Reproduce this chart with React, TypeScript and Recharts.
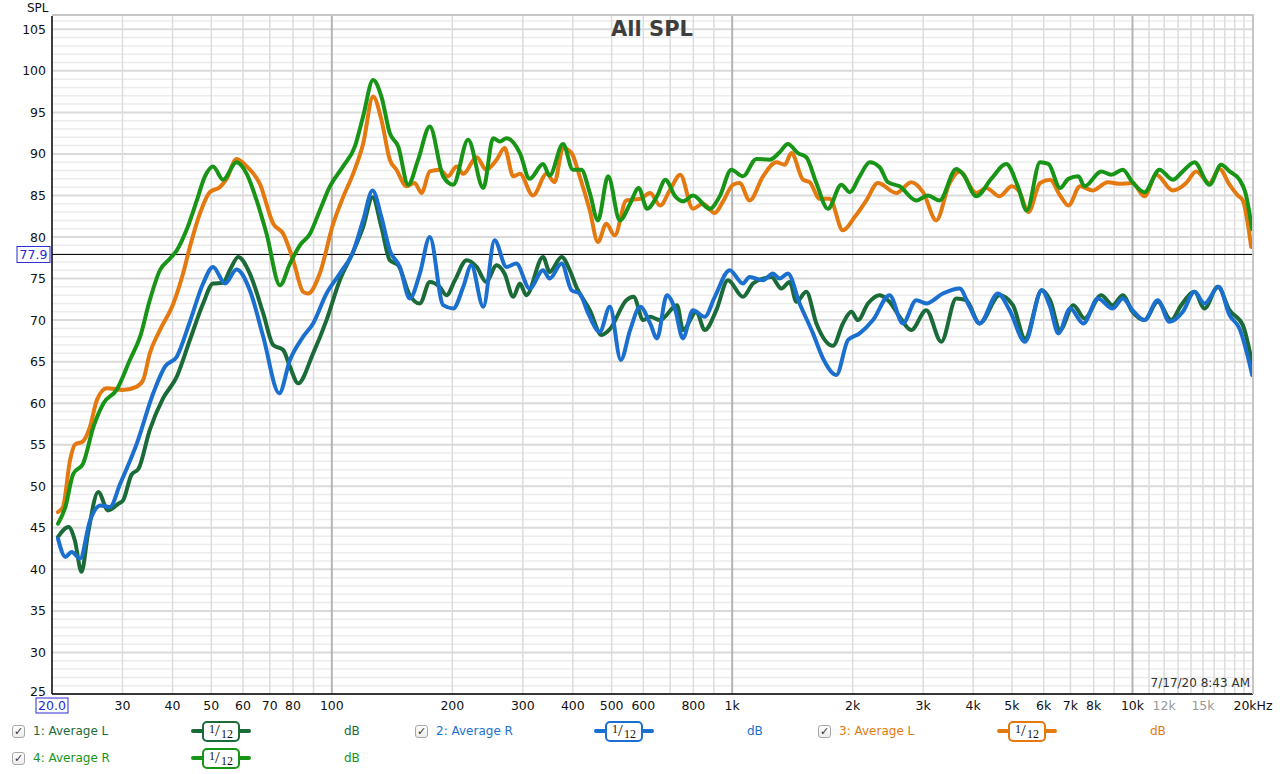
import React from "react";
import { LineChart, Line, XAxis, YAxis, ReferenceLine } from "recharts";

const avgL1Freq = [
  20.7, 22.0, 22.8, 23.7, 24.6, 26.1, 27.6, 29.3, 30.1, 31.6, 32.9, 35.1, 37.9, 41.0, 44.2, 47.7, 50.5, 53.5, 55.6, 58.4,
  62.4, 67.4, 71.4, 75.6, 78.6, 82.4, 89.8, 97.0, 104.7, 113, 119.7, 126.4, 133, 139.6, 146.5, 156.6, 165.9, 175.7, 186, 193.4,
  203, 217, 230, 243, 258, 270, 284, 295, 306, 337, 350, 375, 393, 408, 441, 472, 495, 544, 567, 600,
  624, 661, 728, 754, 814, 854, 913, 976, 1064, 1127, 1194, 1253, 1327, 1392, 1447, 1532, 1623, 1786, 1891, 1985,
  2062, 2184, 2336, 2473, 2620, 2802, 3054, 3329, 3629, 3844, 4150, 4656, 5026, 5391, 5935, 6225, 6594, 7118, 7588, 8353,
  8928, 9457, 10000, 10715, 11565, 12492, 13233, 14285, 15130, 16332, 17474, 18860, 19908,
];
const avgL1Db = [
  43.9, 45.1, 43.5, 39.7, 44.3, 49.3, 47.1, 47.9, 48.3, 51.4, 52.1, 56.8, 60.6, 63.2, 67.6, 72.0, 74.4, 74.5, 76.0, 77.6,
  75.6, 70.8, 67.0, 66.4, 64.4, 62.4, 66.0, 70.0, 74.8, 78.2, 81.2, 84.8, 81.2, 77.2, 76.6, 73.0, 72.0, 74.6, 74.0, 73.0,
  74.8, 77.2, 76.4, 74.6, 76.6, 75.6, 72.8, 74.4, 73.0, 77.6, 75.8, 77.6, 76.0, 74.0, 71.2, 68.2, 68.9, 72.4, 72.8, 70.0,
  70.4, 70.0, 71.8, 68.8, 71.0, 68.8, 71.2, 74.8, 72.8, 74.4, 75.0, 75.2, 73.8, 74.6, 72.2, 73.4, 69.6, 66.9, 69.6, 71.0,
  70.0, 72.0, 73.0, 72.2, 70.4, 68.8, 71.2, 67.4, 72.6, 72.4, 69.6, 73.0, 71.8, 67.8, 73.6, 72.4, 68.8, 71.8, 70.2, 73.0,
  71.8, 73.0, 71.0, 70.0, 72.2, 70.0, 71.8, 73.4, 71.4, 74.0, 71.2, 69.4, 64.8,
];

const avgR2Freq = [
  20.7, 21.6, 22.4, 23.5, 24.9, 26.4, 27.9, 29.6, 32.6, 35.8, 38.3, 41.0, 44.2, 47.7, 50.5, 54.1, 57.8, 62.4, 67.4, 73.9,
  78.6, 84.8, 89.8, 97.0, 104.7, 113, 119.7, 126.4, 133, 139.6, 147.9, 156.6, 165.9, 175.7, 189.7, 201, 213, 223, 239, 255,
  273, 289, 312, 337, 350, 375, 397, 416, 437, 467, 495, 527, 556, 589, 624, 649, 687, 721, 753, 798,
  854, 905, 986, 1064, 1106, 1194, 1264, 1314, 1378, 1474, 1592, 1686, 1821, 1947, 2082, 2248, 2473, 2669, 2883, 3054,
  3360, 3699, 3918, 4150, 4611, 4931, 5391, 5935, 6225, 6530, 6987, 7539, 8190, 8928, 9457, 10000, 10715, 11565, 12370, 13356,
  14285, 15130, 16425, 17474, 18506, 19908,
];
const avgR2Db = [
  43.7, 41.5, 42.1, 41.3, 45.9, 47.7, 47.5, 50.3, 55.2, 61.2, 64.4, 65.6, 69.8, 74.4, 76.4, 74.4, 76.1, 73.6, 68.0, 61.2,
  65.2, 68.0, 69.6, 73.2, 75.6, 78.2, 82.0, 85.6, 82.4, 78.4, 76.4, 72.6, 75.6, 80.0, 71.8, 71.4, 74.0, 76.6, 71.6, 79.6,
  76.4, 76.8, 73.8, 76.0, 75.0, 76.8, 73.6, 73.2, 70.8, 68.6, 71.6, 65.2, 68.8, 71.6, 69.6, 67.8, 73.0, 71.2, 67.8, 71.2,
  70.4, 72.8, 76.0, 74.4, 75.2, 74.8, 75.6, 75.0, 75.6, 72.0, 68.4, 65.4, 63.4, 67.6, 68.4, 70.0, 73.0, 69.6, 72.4, 72.0,
  73.2, 73.8, 71.6, 69.6, 73.2, 71.2, 67.4, 73.6, 71.6, 68.4, 71.4, 69.6, 72.6, 71.4, 72.6, 71.2, 70.0, 72.4, 69.8, 71.0,
  73.4, 72.0, 74.0, 70.6, 69.0, 63.4,
];

const avgL3Freq = [
  20.7, 21.3, 22.2, 22.8, 23.9, 24.9, 25.9, 27.4, 30.1, 32.6, 33.8, 35.1, 37.2, 40.2, 42.5, 44.2, 46.8, 49.6, 52.5, 54.6,
  57.8, 61.3, 66.1, 71.4, 75.6, 80.1, 84.8, 87.3, 93.3, 100.8, 106.7, 113, 119.7, 126.8, 133, 139.6, 145, 153.7, 161, 167.5,
  175.7, 186, 195, 205, 213, 230, 243, 258, 270, 284, 295, 318, 344, 360, 378, 397, 416, 441, 462, 485,
  509, 544, 589, 624, 661, 700, 742, 798, 845, 905, 949, 1005, 1044, 1106, 1194, 1290, 1353, 1406, 1503, 1562,
  1654, 1752, 1891, 2023, 2164, 2313, 2570, 2802, 2998, 3235, 3493, 3699, 4072, 4313, 4656, 4996, 5224, 5495, 5877, 6225,
  6594, 6916, 7398, 7959, 8675, 9280, 10000, 10715, 11460, 12606, 13619, 14424, 15572, 16494, 17474, 18328, 18860, 19794,
];
const avgL3Db = [
  46.9, 47.5, 53.2, 55.0, 55.4, 57.2, 60.4, 61.8, 61.6, 62.0, 62.8, 66.0, 68.8, 72.0, 75.6, 78.8, 82.8, 85.4, 86.0, 87.0,
  89.4, 88.5, 86.4, 81.6, 80.4, 77.2, 73.4, 73.2, 75.6, 81.6, 84.8, 87.6, 91.2, 96.9, 94.1, 89.3, 88.1, 86.1, 86.5, 85.3,
  87.9, 88.1, 87.3, 88.5, 87.6, 89.6, 88.1, 89.3, 90.7, 87.3, 87.6, 85.0, 87.6, 86.6, 90.7, 90.1, 87.3, 83.2, 79.4, 81.6,
  80.2, 84.4, 84.6, 85.3, 83.8, 85.7, 87.5, 83.4, 84.0, 82.9, 84.3, 86.3, 86.5, 84.4, 87.3, 89.0, 88.7, 90.1, 86.9, 86.6,
  84.6, 84.6, 80.8, 82.4, 84.4, 86.5, 85.3, 86.6, 85.4, 82.0, 86.5, 87.9, 85.3, 85.9, 84.9, 86.1, 85.4, 83.0, 86.5, 86.9,
  85.0, 83.8, 86.1, 85.6, 86.6, 86.4, 86.5, 84.9, 87.5, 85.6, 86.5, 87.9, 86.5, 88.2, 86.3, 85.0, 84.4, 78.8,
];

const avgR4Freq = [
  20.7, 21.6, 22.6, 23.9, 25.4, 26.9, 29.0, 31.3, 33.2, 35.1, 37.2, 39.4, 41.0, 43.4, 46.0, 48.2, 50.5, 53.5, 57.8, 61.3,
  64.9, 68.7, 74.2, 78.6, 83.2, 88.2, 93.3, 98.9, 106.7, 114.2, 119.7, 126.8, 133, 139.6, 146.5, 155.1, 164.3, 175.7, 189.7, 201,
  219, 239, 253, 263, 273, 295, 312, 337, 350, 378, 400, 420, 441, 462, 490, 524, 556, 584, 613, 649,
  681, 721, 754, 798, 879, 931, 995, 1064, 1149, 1241, 1314, 1378, 1460, 1532, 1623, 1735, 1874, 1966, 2082, 2206,
  2336, 2449, 2620, 2883, 3082, 3297, 3629, 3770, 4072, 4438, 4838, 5172, 5444, 5877, 6164, 6594, 6916, 7326, 7588, 8353,
  8845, 9457, 10000, 10715, 11679, 12606, 13356, 14285, 15572, 16654, 17474, 18506, 19156, 19908,
];
const avgR4Db = [
  45.5, 47.5, 51.5, 52.7, 57.2, 60.0, 61.6, 65.2, 68.0, 72.4, 76.0, 77.4, 78.4, 80.9, 84.4, 87.3, 88.5, 86.9, 89.0, 87.6,
  84.4, 80.4, 74.2, 76.8, 79.0, 80.4, 83.2, 86.1, 88.5, 90.9, 94.5, 98.9, 96.9, 92.5, 90.9, 86.3, 89.3, 93.3, 87.3, 86.3,
  91.7, 85.9, 91.9, 91.5, 91.9, 90.1, 87.0, 88.8, 87.4, 91.2, 88.1, 88.1, 85.3, 82.0, 87.3, 82.0, 84.0, 85.9, 83.4, 84.9,
  86.9, 84.9, 84.3, 85.0, 83.4, 84.9, 88.1, 87.3, 89.4, 89.3, 90.2, 91.2, 90.1, 89.6, 86.5, 83.4, 86.3, 85.4, 87.3, 89.0,
  88.4, 86.6, 86.1, 84.4, 85.0, 84.4, 88.2, 87.6, 84.9, 87.0, 88.8, 86.1, 83.2, 89.0, 88.8, 85.9, 87.0, 87.3, 86.1, 87.9,
  87.5, 88.1, 86.6, 85.4, 88.1, 86.9, 87.9, 89.0, 86.3, 88.7, 87.9, 86.9, 85.3, 80.9,
];

const seriesNames = ["1: Average L", "2: Average R", "3: Average L", "4: Average R"];
const freqTicks = [20, 30, 40, 50, 60, 70, 80, 100, 200, 300, 400, 500, 600, 800, 1000, 2000, 3000, 4000, 5000, 6000, 7000, 8000, 10000, 12000, 15000, 20000];
const grayFreqTicks = [12000, 15000];
const splTicks = [25, 30, 35, 40, 45, 50, 55, 60, 65, 70, 75, 80, 85, 90, 95, 100, 105];
const gridFreqs = [
  30, 40, 50, 60, 70, 80, 90, 100, 200, 300, 400, 500, 600, 700, 800, 900, 1000,
  2000, 3000, 4000, 5000, 6000, 7000, 8000, 9000, 10000,
  11000, 12000, 13000, 14000, 15000, 16000, 17000, 18000, 19000,
];
const decadeFreqs = [100, 1000, 10000];
const cursorLevel = 77.9;

const FONT = '"DejaVu Sans", "Liberation Sans", sans-serif';
const seriesColors = ["#1b6b39", "#1b70cf", "#e3790f", "#189517"];
const legendSlots = [
  { left: 12, top: 724 },
  { left: 415, top: 724 },
  { left: 818, top: 724 },
  { left: 12, top: 751 },
];

const toPoints = (freq: number[], db: number[]) => freq.map((f, i) => ({ f, db: db[i] }));
const seriesData = [
  toPoints(avgL1Freq, avgL1Db),
  toPoints(avgR2Freq, avgR2Db),
  toPoints(avgL3Freq, avgL3Db),
  toPoints(avgR4Freq, avgR4Db),
];

const minorLevels: number[] = [];
for (let v = 26; v <= 106; v++) if (v % 5 !== 0) minorLevels.push(v);

const freqLabel = (v: number) => {
  if (v === 20000) return "20kHz";
  if (v >= 1000) return `${v / 1000}k`;
  return String(v);
};

const XTick = (props: any) => {
  const { x, y, payload } = props;
  const v = payload.value;
  if (v === 20) {
    return (
      <g>
        <rect x={x - 16} y={y + 4} width={32} height={15} fill="#fff" stroke="#2a2ad4" strokeWidth={1} />
        <text x={x} y={y + 16} textAnchor="middle" fill="#2a2ad4" fontSize={12.5} fontFamily={FONT}>20.0</text>
      </g>
    );
  }
  return (
    <text x={x} y={y + 16} textAnchor="middle" fill={grayFreqTicks.includes(v) ? "#9a9a9a" : "#111"} fontSize={12.5} fontFamily={FONT}>
      {freqLabel(v)}
    </text>
  );
};

const YTick = (props: any) => {
  const { x, y, payload } = props;
  const v = payload.value;
  // the lowest label sits a touch higher so it clears the 20.0 start box
  const shift = v === splTicks[0] ? -3 : 0;
  return (
    <text x={x} y={y + shift} dy="0.36em" textAnchor="end" fill="#111" fontSize={12.5} fontFamily={FONT}>
      {v}
    </text>
  );
};

const CursorLabel = (props: any) => {
  const vb = props.viewBox || {};
  const x = vb.x;
  const y = vb.y;
  return (
    <g>
      <rect x={x - 35} y={y - 8} width={33} height={16} fill="#fff" stroke="#2a2ad4" strokeWidth={1} />
      <text x={x - 18.5} y={y + 4.5} textAnchor="middle" fill="#2a2ad4" fontSize={12.5} fontFamily={FONT}>{cursorLevel}</text>
    </g>
  );
};

const FilterBadge = ({ color }: { color: string }) => (
  <div style={{ position: "absolute", width: 60, height: 21 }}>
    <div style={{ position: "absolute", left: 0, right: 0, top: 8, height: 4, background: color, borderRadius: 2 }} />
    <div
      style={{
        position: "absolute", left: 11, top: 0, width: 38, height: 21, boxSizing: "border-box",
        border: `2px solid ${color}`, borderRadius: 5, background: "#fff",
        fontFamily: '"Liberation Serif", "DejaVu Serif", serif', color: "#111",
      }}
    >
      <span style={{ position: "absolute", left: 5, top: -1, fontSize: 12 }}>1</span>
      <span style={{ position: "absolute", left: 11, top: -2, fontSize: 17 }}>/</span>
      <span style={{ position: "absolute", left: 17, top: 4, fontSize: 12 }}>12</span>
    </div>
  </div>
);

const LegendItem = ({ idx }: { idx: number }) => {
  const slot = legendSlots[idx];
  const color = seriesColors[idx];
  return (
    <div style={{ position: "absolute", left: slot.left, top: slot.top, height: 22, width: 360 }}>
      <div
        style={{
          position: "absolute", left: 0, top: 1, width: 13, height: 13, boxSizing: "border-box",
          border: "1px solid #a8a8a8", borderRadius: 3, background: "linear-gradient(#fff, #ececec)",
          fontSize: 11, lineHeight: "12px", textAlign: "center", color: "#333", fontFamily: FONT,
        }}
      >
        ✓
      </div>
      <div style={{ position: "absolute", left: 21, top: 0, fontSize: 12, color, fontFamily: FONT, whiteSpace: "nowrap" }}>
        {seriesNames[idx]}
      </div>
      <div style={{ position: "absolute", left: 179, top: -3 }}>
        <FilterBadge color={color} />
      </div>
      <div style={{ position: "absolute", left: 332, top: 0, fontSize: 12, color, fontFamily: FONT }}>dB</div>
    </div>
  );
};

export default function App() {
  return (
    <div style={{ position: "absolute", left: 0, top: 0, width: 1280, height: 774, background: "#fff", overflow: "hidden" }}>
      <LineChart width={1280} height={774} margin={{ top: 16, right: 27, bottom: 60, left: 0 }}>
        {minorLevels.map((v) => (
          <ReferenceLine key={`m${v}`} y={v} stroke="#ececec" strokeWidth={1.5} />
        ))}
        {splTicks.map((v) => (
          <ReferenceLine key={`M${v}`} y={v} stroke="#dadada" strokeWidth={2} />
        ))}
        {gridFreqs.map((f) => (
          <ReferenceLine
            key={`f${f}`}
            x={f}
            stroke={decadeFreqs.includes(f) ? "#b4b4b4" : "#dcdcdc"}
            strokeWidth={decadeFreqs.includes(f) ? 2 : 1.5}
          />
        ))}
        <XAxis
          dataKey="f"
          type="number"
          scale="log"
          domain={[20, 20000]}
          ticks={freqTicks}
          interval={0}
          allowDataOverflow
          height={20}
          tickLine={false}
          tickSize={0}
          tickMargin={0}
          axisLine={{ stroke: "#000", strokeWidth: 1.5 }}
          tick={<XTick />}
        />
        <YAxis
          type="number"
          domain={[25, 106.6]}
          ticks={splTicks}
          interval={0}
          allowDataOverflow
          width={52}
          tickLine={false}
          tickSize={6}
          tickMargin={0}
          axisLine={{ stroke: "#000", strokeWidth: 1.5 }}
          tick={<YTick />}
        />
        <ReferenceLine y={cursorLevel} stroke="#000" strokeWidth={1} label={<CursorLabel />} />
        {seriesData.map((d, i) => (
          <Line
            key={seriesNames[i] + i}
            data={d}
            dataKey="db"
            type="monotone"
            stroke={seriesColors[i]}
            strokeWidth={4}
            dot={false}
            activeDot={false}
            isAnimationActive={false}
            strokeLinejoin="round"
            strokeLinecap="round"
          />
        ))}
      </LineChart>

      {/* plot frame (top / right) */}
      <div
        style={{
          position: "absolute", left: 52, top: 14, width: 1202, height: 680, boxSizing: "border-box",
          borderTop: "2px solid #c6c6c6", borderRight: "2px solid #c6c6c6", pointerEvents: "none",
        }}
      />
      <div style={{ position: "absolute", left: 27, top: 1, fontSize: 12, fontFamily: FONT, color: "#111" }}>SPL</div>
      <div
        style={{
          position: "absolute", left: 0, width: 1304, top: 17, textAlign: "center",
          fontSize: 21, fontWeight: "bold", fontFamily: FONT, color: "#3e3e3e",
        }}
      >
        All SPL
      </div>
      <div style={{ position: "absolute", right: 30, top: 676, fontSize: 12, fontFamily: FONT, color: "#333" }}>
        7/17/20 8:43 AM
      </div>
      {seriesNames.map((_, i) => (
        <LegendItem key={i} idx={i} />
      ))}
    </div>
  );
}
